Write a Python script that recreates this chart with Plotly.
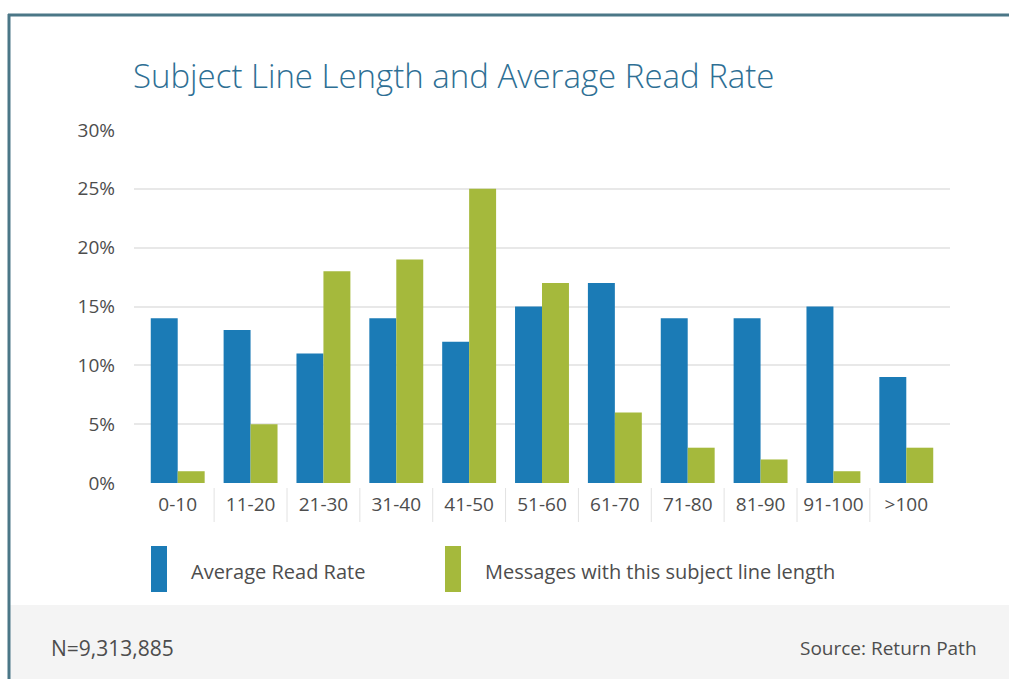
import plotly.graph_objects as go

categories = ["0-10", "11-20", "21-30", "31-40", "41-50", "51-60", "61-70", "71-80", "81-90", "91-100", ">100"]
read_rate = [14, 13, 11, 14, 12, 15, 17, 14, 14, 15, 9]
messages = [1, 5, 18, 19, 25, 17, 6, 3, 2, 1, 3]
y_ticks = [0, 5, 10, 15, 20, 25, 30]
y_tick_labels = [f"{v}%" for v in y_ticks]

W, H = 1009, 679
PX0, PX1, PY0, PY1 = 134, 950, 130, 483
BLUE = "#1b7bb6"
GREEN = "#a5b93c"
FONT = "Open Sans"
TXT = "#4d4d4d"

def px(x):
    return (x - PX0) / (PX1 - PX0)

def py(y):
    return (PY1 - y) / (PY1 - PY0)

fig = go.Figure()
fig.add_trace(go.Bar(x=categories, y=read_rate, name="Average Read Rate",
                     marker=dict(color=BLUE, line=dict(width=0)), showlegend=False))
fig.add_trace(go.Bar(x=categories, y=messages, name="Messages with this subject line length",
                     marker=dict(color=GREEN, line=dict(width=0)), showlegend=False))

shapes = []
# footer band
shapes.append(dict(type="rect", xref="paper", yref="paper", x0=px(10), x1=px(W), y0=py(605), y1=py(H),
                   fillcolor="#f4f4f4", line=dict(width=0), layer="below"))
# frame
shapes.append(dict(type="line", xref="paper", yref="paper", x0=px(8), x1=px(W), y0=py(15), y1=py(15),
                   line=dict(color="#4b7787", width=3)))
shapes.append(dict(type="line", xref="paper", yref="paper", x0=px(9), x1=px(9), y0=py(14), y1=py(H),
                   line=dict(color="#4b7787", width=3)))
# category separators
for i in range(len(categories) - 1):
    shapes.append(dict(type="line", xref="x", yref="paper", x0=i + 0.5, x1=i + 0.5, y0=py(488), y1=py(522),
                       line=dict(color="#e2e2e2", width=1)))
# legend swatches
shapes.append(dict(type="rect", xref="paper", yref="paper", x0=px(151), x1=px(167), y0=py(592), y1=py(546),
                   fillcolor=BLUE, line=dict(width=0)))
shapes.append(dict(type="rect", xref="paper", yref="paper", x0=px(445), x1=px(461), y0=py(592), y1=py(546),
                   fillcolor=GREEN, line=dict(width=0)))

annotations = [
    dict(text="Subject Line Length and Average Read Rate", xref="paper", yref="paper", x=px(131), y=py(75),
         xanchor="left", yanchor="middle", showarrow=False,
         font=dict(family=FONT, size=33, weight=300, color="#2e6f94")),
    dict(text="Average Read Rate", xref="paper", yref="paper", x=px(189), y=py(571),
         xanchor="left", yanchor="middle", showarrow=False, font=dict(family=FONT, size=20, color=TXT)),
    dict(text="Messages with this subject line length", xref="paper", yref="paper", x=px(483), y=py(571),
         xanchor="left", yanchor="middle", showarrow=False, font=dict(family=FONT, size=20, color=TXT)),
    dict(text="N=9,313,885", xref="paper", yref="paper", x=px(49), y=py(648),
         xanchor="left", yanchor="middle", showarrow=False, font=dict(family=FONT, size=21, color=TXT)),
    dict(text="Source: Return Path", xref="paper", yref="paper", x=px(979), y=py(648),
         xanchor="right", yanchor="middle", showarrow=False, font=dict(family=FONT, size=19, color=TXT)),
]

fig.update_layout(
    width=W, height=H,
    margin=dict(l=PX0, r=W - PX1, t=PY0, b=H - PY1),
    paper_bgcolor="white", plot_bgcolor="white",
    barmode="group", bargap=0.26, bargroupgap=0,
    shapes=shapes, annotations=annotations,
    font=dict(family=FONT, color=TXT),
    xaxis=dict(range=[-0.6, len(categories) - 0.4], showgrid=False, showline=False, zeroline=False,
               tickfont=dict(family=FONT, size=19, color=TXT), ticklabelstandoff=8, fixedrange=True),
    yaxis=dict(range=[0, 30], tickvals=y_ticks, ticktext=y_tick_labels, showgrid=True,
               gridcolor="#e8e8e8", gridwidth=2, zeroline=False, showline=False,
               tickfont=dict(family=FONT, size=19, color=TXT), ticklabelstandoff=18, fixedrange=True),
)

fig.write_html("out.html")
